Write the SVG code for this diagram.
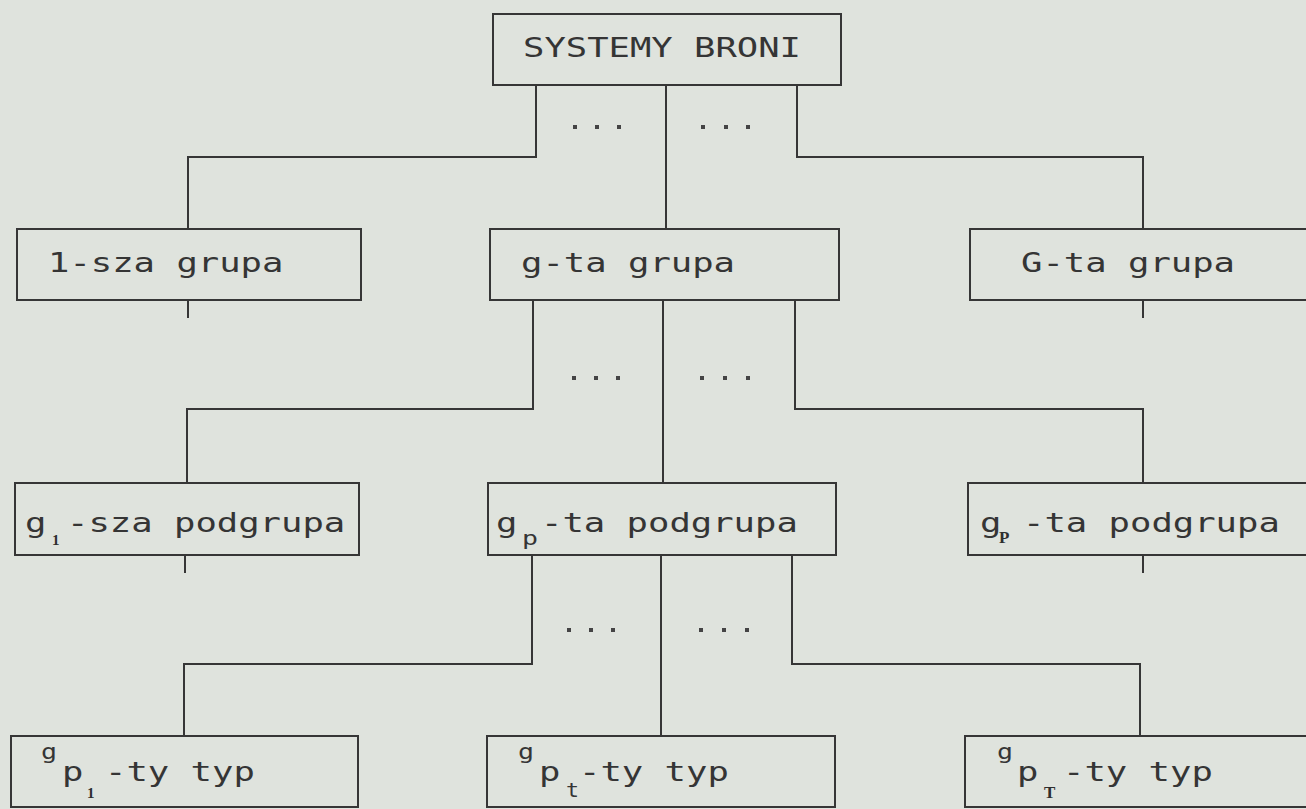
<svg xmlns="http://www.w3.org/2000/svg" width="1306" height="809" viewBox="0 0 1306 809">
<style>
.bg{fill:#dfe3dd}
.box{fill:none;stroke:#363636;stroke-width:2}
.ln{fill:none;stroke:#363636;stroke-width:2}
.dot{fill:#444}
.t{font-family:"DejaVu Sans Mono",monospace;font-size:27px;fill:#353535}
.sm{font-family:"DejaVu Sans Mono",monospace;font-size:21px;fill:#353535}
.sub{font-family:"DejaVu Sans Mono",monospace;font-size:20px;fill:#353535}
.bs{font-family:"Liberation Serif",serif;font-weight:bold;fill:#2e2e2e}
</style>
<rect class="bg" x="0" y="0" width="1306" height="809"/>

<g id="connectors">
  <path class="ln" d="M536 85 V157 H188 V229"/>
  <path class="ln" d="M666 85 V229"/>
  <path class="ln" d="M797 85 V157 H1143 V229"/>
  <path class="ln" d="M188 300 V318"/>
  <path class="ln" d="M1143 300 V318"/>
  <path class="ln" d="M533 300 V409 H187 V483"/>
  <path class="ln" d="M663 300 V483"/>
  <path class="ln" d="M795 300 V409 H1143 V483"/>
  <path class="ln" d="M185 555 V573"/>
  <path class="ln" d="M1143 555 V573"/>
  <path class="ln" d="M532 555 V664 H184 V736"/>
  <path class="ln" d="M661 555 V736"/>
  <path class="ln" d="M792 555 V664 H1140 V736"/>
  <g id="dots">
    <rect class="dot" x="573" y="125" width="4" height="4"/>
    <rect class="dot" x="595" y="125" width="4" height="4"/>
    <rect class="dot" x="617" y="125" width="4" height="4"/>
    <rect class="dot" x="701" y="125" width="4" height="4"/>
    <rect class="dot" x="724" y="125" width="4" height="4"/>
    <rect class="dot" x="746" y="125" width="4" height="4"/>
    <rect class="dot" x="572" y="376" width="4" height="4"/>
    <rect class="dot" x="594" y="376" width="4" height="4"/>
    <rect class="dot" x="616" y="376" width="4" height="4"/>
    <rect class="dot" x="700" y="376" width="4" height="4"/>
    <rect class="dot" x="723" y="376" width="4" height="4"/>
    <rect class="dot" x="746" y="376" width="4" height="4"/>
    <rect class="dot" x="567" y="628" width="4" height="4"/>
    <rect class="dot" x="589" y="628" width="4" height="4"/>
    <rect class="dot" x="611" y="628" width="4" height="4"/>
    <rect class="dot" x="699" y="628" width="4" height="4"/>
    <rect class="dot" x="722" y="628" width="4" height="4"/>
    <rect class="dot" x="745" y="628" width="4" height="4"/>
  </g>
</g>

<g id="root">
  <rect class="box" x="493" y="14" width="348" height="71"/>
  <text class="t" x="523" y="57" textLength="278" lengthAdjust="spacingAndGlyphs">SYSTEMY BRONI</text>
</g>

<g id="grupa-1">
  <rect class="box" x="17" y="229" width="344" height="71"/>
  <text class="t" x="48" y="272" textLength="235.4" lengthAdjust="spacingAndGlyphs">1-sza grupa</text>
</g>
<g id="grupa-g">
  <rect class="box" x="490" y="229" width="349" height="71"/>
  <text class="t" x="521" y="272" textLength="214" lengthAdjust="spacingAndGlyphs">g-ta grupa</text>
</g>
<g id="grupa-G">
  <rect class="box" x="970" y="229" width="360" height="71"/>
  <text class="t" x="1021" y="272" textLength="214" lengthAdjust="spacingAndGlyphs">G-ta grupa</text>
</g>

<g id="podgrupa-1">
  <rect class="box" x="15" y="483" width="344" height="72"/>
  <text class="t" x="25" y="532" textLength="21.4" lengthAdjust="spacingAndGlyphs">g</text>
  <text class="bs" x="52" y="545" font-size="15">1</text>
  <text class="t" x="67" y="532" textLength="278.2" lengthAdjust="spacingAndGlyphs">-sza podgrupa</text>
</g>
<g id="podgrupa-p">
  <rect class="box" x="488" y="483" width="348" height="72"/>
  <text class="t" x="496" y="532" textLength="21.4" lengthAdjust="spacingAndGlyphs">g</text>
  <text class="sub" x="522" y="545" textLength="16" lengthAdjust="spacingAndGlyphs">p</text>
  <text class="t" x="541" y="532" textLength="256.8" lengthAdjust="spacingAndGlyphs">-ta podgrupa</text>
</g>
<g id="podgrupa-P">
  <rect class="box" x="968" y="483" width="360" height="72"/>
  <text class="t" x="980" y="532" textLength="21.4" lengthAdjust="spacingAndGlyphs">g</text>
  <text class="bs" x="999" y="543" font-size="17">P</text>
  <text class="t" x="1023" y="532" textLength="256.8" lengthAdjust="spacingAndGlyphs">-ta podgrupa</text>
</g>

<g id="typ-1">
  <rect class="box" x="11" y="736" width="347" height="71"/>
  <text class="sm" x="41" y="759" textLength="16" lengthAdjust="spacingAndGlyphs">g</text>
  <text class="t" x="62" y="781" textLength="21.4" lengthAdjust="spacingAndGlyphs">p</text>
  <text class="bs" x="87" y="798" font-size="15">1</text>
  <text class="t" x="105" y="781" textLength="149.8" lengthAdjust="spacingAndGlyphs">-ty typ</text>
</g>
<g id="typ-t">
  <rect class="box" x="487" y="736" width="348" height="71"/>
  <text class="sm" x="518" y="759" textLength="16" lengthAdjust="spacingAndGlyphs">g</text>
  <text class="t" x="539" y="781" textLength="21.4" lengthAdjust="spacingAndGlyphs">p</text>
  <text class="sub" x="566" y="797" textLength="13" lengthAdjust="spacingAndGlyphs">t</text>
  <text class="t" x="579" y="781" textLength="149.8" lengthAdjust="spacingAndGlyphs">-ty typ</text>
</g>
<g id="typ-T">
  <rect class="box" x="965" y="736" width="360" height="71"/>
  <text class="sm" x="997" y="759" textLength="16" lengthAdjust="spacingAndGlyphs">g</text>
  <text class="t" x="1017" y="781" textLength="21.4" lengthAdjust="spacingAndGlyphs">p</text>
  <text class="bs" x="1044" y="798" font-size="17">T</text>
  <text class="t" x="1063" y="781" textLength="149.8" lengthAdjust="spacingAndGlyphs">-ty typ</text>
</g>
</svg>
